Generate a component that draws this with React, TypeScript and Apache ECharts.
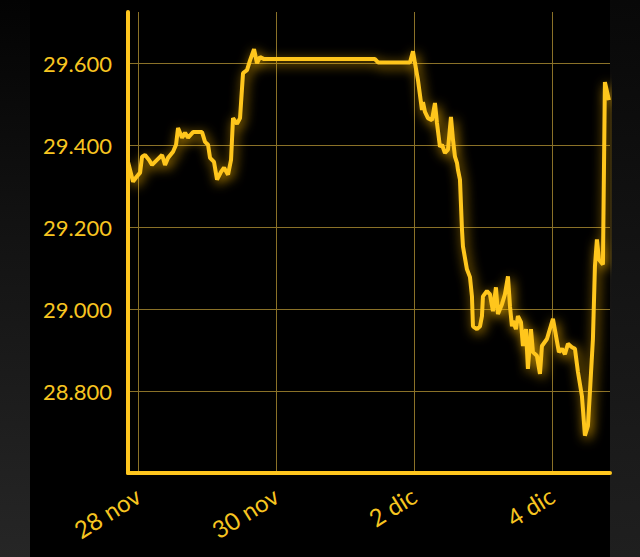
import React, { useEffect, useRef } from "react";
import * as echarts from "echarts";

// hours since 28 nov 00:00
const hours = [
  -3.48, -1.74, -0.7, 0.7, 1.39, 2.43, 3.83, 4.87, 6.61, 8.35, 9.39, 10.43, 12.17, 13.22, 13.91,
  15.3, 16.35, 17.39, 19.13, 22.26, 23.3, 24.35, 25.04, 26.43, 27.48, 28.87, 29.91, 31.3, 32.35,
  33.04, 34.43, 35.48, 36.52, 37.91, 38.96, 40.35, 41.39, 42.43, 43.83, 82.43, 83.48, 94.61,
  95.65, 96.35, 97.39, 98.78, 99.13, 99.83, 100.87, 102.26, 103.3, 104.0, 105.04, 105.74, 106.78,
  107.83, 108.87, 109.57, 110.26, 110.96, 111.3, 112.0, 112.7, 113.04, 114.43, 115.48, 116.17,
  116.52, 117.91, 118.96, 119.65, 120.0, 121.39, 122.43, 123.48, 124.52, 125.22, 126.61, 127.65,
  128.7, 129.39, 130.09, 130.43, 131.48, 132.17, 133.22, 133.91, 134.96, 135.65, 136.7, 137.39,
  138.78, 139.83, 140.52, 142.26, 144.35, 146.43, 147.48, 148.52, 149.57, 150.96, 152.0, 153.04,
  154.43, 155.48, 156.52, 157.22, 158.26, 158.96, 159.65, 160.35, 161.74, 162.43, 163.83,
];

const values = [
  29359, 29311, 29321, 29333, 29372, 29376, 29364, 29352, 29364, 29376, 29352, 29369, 29384, 29401,
  29442, 29418, 29430, 29418, 29432, 29432, 29408, 29401, 29369, 29359, 29316, 29335, 29345, 29328,
  29364, 29466, 29452, 29466, 29576, 29583, 29607, 29634, 29600, 29615, 29610, 29610, 29602, 29602,
  29629, 29600, 29559, 29486, 29505, 29481, 29466, 29461, 29503, 29454, 29396, 29401, 29381, 29389,
  29469, 29413, 29372, 29357, 29340, 29316, 29194, 29153, 29097, 29078, 29031, 28958, 28951, 28958,
  28983, 29031, 29044, 29036, 28995, 29053, 28988, 29012, 29036, 29080, 29007, 28958, 28971, 28951,
  28983, 28968, 28910, 28951, 28854, 28951, 28895, 28886, 28842, 28910, 28927, 28976, 28895, 28903,
  28890, 28915, 28907, 28903, 28847, 28788, 28691, 28715, 28798, 28927, 29104, 29170, 29121, 29109,
  29554, 29510,
];

const xTickHours = [0, 48, 96, 144];
const xTickLabels = ["28 nov", "30 nov", "2 dic", "4 dic"];

const yMin = 28600;
const yMax = 29725;
const yStep = 200;
const xMin = -3.5;
const xMax = 164.2;

const YELLOW = "#FFC61E";
const LABEL = "#F7C520";
const GRID = "#8a7128";
const FONT = "Lato, 'Open Sans', sans-serif";

function fmtThousands(v: number): string {
  return Math.round(v)
    .toString()
    .replace(/\B(?=(\d{3})+(?!\d))/g, ".");
}

export default function App() {
  const ref = useRef<HTMLDivElement>(null);

  useEffect(() => {
    if (!ref.current) return;
    const chart = echarts.init(ref.current, null, { renderer: "svg" });
    const data = hours.map((h, i) => [h, values[i]]);
    chart.setOption({
      animation: false,
      backgroundColor: "transparent",
      grid: { left: 128, right: 30, top: 12, bottom: 84, containLabel: false },
      xAxis: {
        type: "value",
        min: xMin,
        max: xMax,
        minInterval: 48,
        maxInterval: 48,
        axisLine: { show: true, onZero: false, lineStyle: { color: YELLOW, width: 4 } },
        axisTick: { show: false },
        splitLine: {
          show: true,
          showMinLine: false,
          showMaxLine: false,
          lineStyle: { color: GRID, width: 1 },
        },
        axisLabel: {
          show: true,
          rotate: 32,
          margin: 20,
          color: LABEL,
          fontFamily: FONT,
          fontSize: 24,
          showMinLabel: false,
          showMaxLabel: false,
          formatter: (v: number) => {
            const idx = xTickHours.indexOf(Math.round(v * 100) / 100);
            return idx >= 0 ? xTickLabels[idx] : "";
          },
        },
      },
      yAxis: {
        type: "value",
        min: yMin,
        max: yMax,
        interval: yStep,
        axisLine: { show: true, onZero: false, lineStyle: { color: YELLOW, width: 4 } },
        axisTick: { show: false },
        splitLine: {
          show: true,
          showMinLine: false,
          showMaxLine: false,
          lineStyle: { color: GRID, width: 1 },
        },
        axisLabel: {
          show: true,
          margin: 16,
          color: LABEL,
          fontFamily: FONT,
          fontSize: 22,
          showMinLabel: false,
          showMaxLabel: false,
          formatter: (v: number) => (v % yStep === 0 && v > yMin ? fmtThousands(v) : ""),
        },
      },
      series: [
        {
          type: "line",
          data,
          showSymbol: false,
          symbol: "none",
          lineStyle: {
            color: YELLOW,
            width: 4,
            shadowColor: "rgba(255,185,0,0.85)",
            shadowBlur: 12,
            shadowOffsetX: 2,
            shadowOffsetY: 3,
          },
        },
      ],
    });
    return () => chart.dispose();
  }, []);

  return (
    <div
      style={{
        position: "absolute",
        left: 0,
        top: 0,
        width: 640,
        height: 557,
        background: "#000",
        overflow: "hidden",
      }}
    >
      <div
        style={{
          position: "absolute",
          left: 0,
          top: 0,
          width: 30,
          height: 557,
          background: "linear-gradient(to bottom, #030303 0%, #121212 40%, #262626 100%)",
        }}
      />
      <div
        style={{
          position: "absolute",
          left: 610,
          top: 0,
          width: 30,
          height: 557,
          background: "linear-gradient(to bottom, #080808 0%, #141414 50%, #1f1f1f 100%)",
        }}
      />
      <div
        ref={ref}
        style={{ position: "absolute", left: 0, top: 0, width: 640, height: 557 }}
      />
    </div>
  );
}
